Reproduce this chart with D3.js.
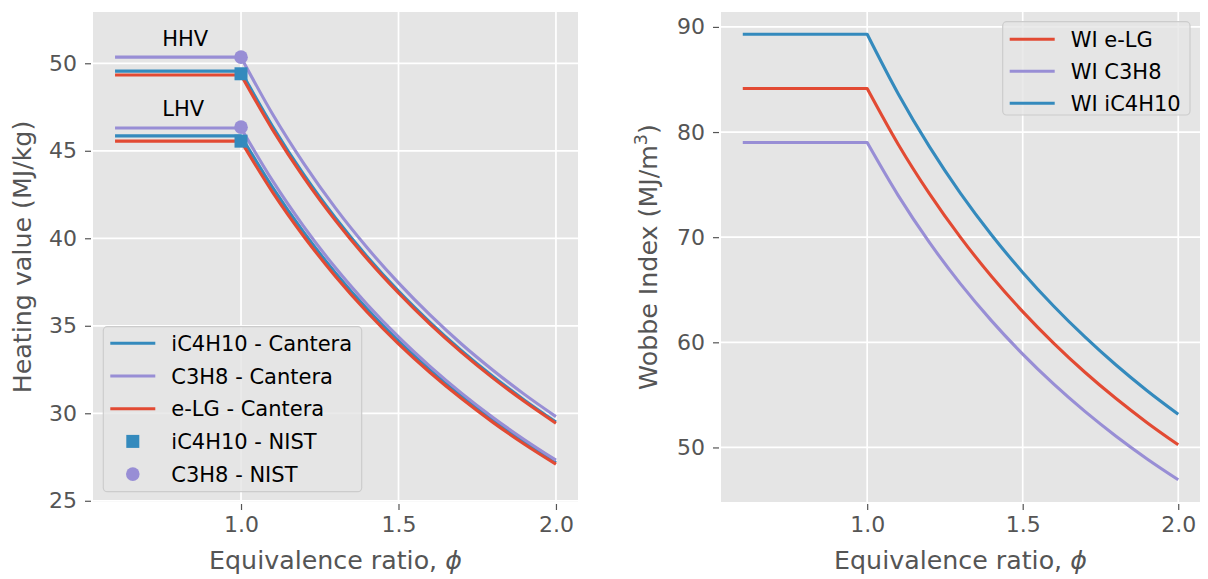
<!DOCTYPE html>
<html>
<head>
<meta charset="utf-8">
<script src="https://cdn.jsdelivr.net/npm/d3@7"></script>
<style>
  html, body { margin: 0; padding: 0; background: #ffffff; }
  svg { display: block; font-family: "DejaVu Sans", sans-serif; }
</style>
</head>
<body>
<svg id="chart" width="1208" height="579"></svg>
<script>
// Equivalence ratio samples shared by every curve
const phi = [0.6, 1.0, 1.1, 1.2, 1.3, 1.4, 1.5, 1.6, 1.7, 1.8, 1.9, 2.0];

// Higher heating values (MJ/kg), Cantera
const hhvIC4H10 = [49.55, 49.55, 46.40, 43.62, 41.16, 38.96, 36.98, 35.20, 33.58, 32.10, 30.75, 29.50];
const hhvC3H8   = [50.35, 50.35, 47.10, 44.25, 41.72, 39.47, 37.45, 35.62, 33.96, 32.46, 31.08, 29.81];
const hhvELG    = [49.33, 49.33, 46.21, 43.45, 41.01, 38.83, 36.87, 35.09, 33.48, 32.01, 30.67, 29.43];

// Lower heating values (MJ/kg), Cantera
const lhvIC4H10 = [45.85, 45.85, 42.91, 40.32, 38.02, 35.97, 34.14, 32.48, 30.97, 29.60, 28.34, 27.19];
const lhvC3H8   = [46.30, 46.30, 43.29, 40.65, 38.31, 36.23, 34.36, 32.68, 31.15, 29.76, 28.49, 27.32];
const lhvELG    = [45.55, 45.55, 42.64, 40.09, 37.82, 35.79, 33.97, 32.33, 30.84, 29.48, 28.23, 27.09];

// NIST reference values at stoichiometry: [HHV, LHV]
const nistPhi    = [1.0, 1.0];
const nistIC4H10 = [49.40, 45.55];
const nistC3H8   = [50.35, 46.35];

// Wobbe index (MJ/m^3)
const wiELG    = [84.14, 84.14, 78.82, 74.14, 69.98, 66.26, 62.92, 59.90, 57.15, 54.65, 52.36, 50.25];
const wiC3H8   = [79.00, 79.00, 73.95, 69.50, 65.56, 62.04, 58.88, 56.02, 53.43, 51.07, 48.91, 46.93];
const wiIC4H10 = [89.30, 89.30, 83.62, 78.61, 74.17, 70.21, 66.65, 63.43, 60.51, 57.84, 55.40, 53.16];

// Tick values
const xTicks = [1.0, 1.5, 2.0];
const hvTicks = [25, 30, 35, 40, 45, 50];
const wiTicks = [50, 60, 70, 80, 90];

const RED = "#E24A33", BLUE = "#348ABD", PURPLE = "#988ED5";
const TICK_FS = 22, LABEL_FS = 25.3, LEGEND_FS = 21;

const svg = d3.select("#chart");

// Line with a flat lean branch and a smooth rich branch
function curvePath(x, y, vals) {
  const pts = phi.map((p, i) => [x(p), y(vals[i])]);
  const rich = d3.line().curve(d3.curveMonotoneX)(pts.slice(1));
  return `M${pts[0][0]},${pts[0][1]}L` + rich.slice(1);
}

function panel(opts) {
  const { left, right, top, bottom, xDomain, yDomain, yTicks } = opts;
  const x = d3.scaleLinear().domain(xDomain).range([left, right]);
  const y = d3.scaleLinear().domain(yDomain).range([bottom, top]);
  const g = svg.append("g");

  g.append("rect").attr("x", left).attr("y", top)
    .attr("width", right - left).attr("height", bottom - top).attr("fill", "#E5E5E5");

  // grid
  g.append("g").selectAll("line").data(xTicks).join("line")
    .attr("x1", d => x(d)).attr("x2", d => x(d)).attr("y1", top).attr("y2", bottom)
    .attr("stroke", "#ffffff").attr("stroke-width", 1.7);
  g.append("g").selectAll("line").data(yTicks).join("line")
    .attr("x1", left).attr("x2", right).attr("y1", d => y(d)).attr("y2", d => y(d))
    .attr("stroke", "#ffffff").attr("stroke-width", 1.7);

  // axes
  const xAxis = d3.axisBottom(x).tickValues(xTicks).tickFormat(d3.format(".1f"))
    .tickSizeInner(6).tickSizeOuter(0).tickPadding(6);
  const xa = g.append("g").attr("transform", `translate(0,${bottom + 2})`).call(xAxis);
  const yAxis = d3.axisLeft(y).tickValues(yTicks).tickFormat(d3.format("d"))
    .tickSizeInner(6).tickSizeOuter(0).tickPadding(8);
  const ya = g.append("g").attr("transform", `translate(${left - 2},0)`).call(yAxis);
  [xa, ya].forEach(a => {
    a.select(".domain").remove();
    a.selectAll(".tick line").attr("stroke", "#555555").attr("stroke-width", 1.2);
    a.selectAll(".tick text").attr("fill", "#555555")
      .style("font-size", TICK_FS + "px").style("font-family", "DejaVu Sans");
  });
  xa.selectAll(".tick text").attr("dy", null).attr("y", 28);

  // x label
  const xl = g.append("text").attr("x", (left + right) / 2).attr("y", 569)
    .attr("text-anchor", "middle").attr("fill", "#555555")
    .style("font-size", LABEL_FS + "px");
  xl.append("tspan").text("Equivalence ratio, ");
  xl.append("tspan").attr("font-style", "italic").text("ϕ");

  return { g, x, y };
}

// ---------- Left panel: heating values ----------
const L = panel({ left: 93, right: 578, top: 12, bottom: 502,
  xDomain: [0.53, 2.07], yDomain: [24.93, 52.93], yTicks: hvTicks });

const hvSeries = [
  [hhvIC4H10, BLUE], [hhvC3H8, PURPLE], [hhvELG, RED],
  [lhvIC4H10, BLUE], [lhvC3H8, PURPLE], [lhvELG, RED]
];
hvSeries.forEach(([vals, c]) => {
  L.g.append("path").attr("d", curvePath(L.x, L.y, vals))
    .attr("fill", "none").attr("stroke", c).attr("stroke-width", 3.1)
    .attr("stroke-linejoin", "round");
});

L.g.append("g").selectAll("rect").data(nistIC4H10).join("rect")
  .attr("x", (d, i) => L.x(nistPhi[i]) - 6.5).attr("y", d => L.y(d) - 6.5)
  .attr("width", 13).attr("height", 13).attr("fill", BLUE);
L.g.append("g").selectAll("circle").data(nistC3H8).join("circle")
  .attr("cx", (d, i) => L.x(nistPhi[i])).attr("cy", d => L.y(d)).attr("r", 6.8)
  .attr("fill", PURPLE);

L.g.append("text").attr("x", L.x(0.75)).attr("y", L.y(51)).text("HHV")
  .style("font-size", LEGEND_FS + "px").attr("fill", "#000");
L.g.append("text").attr("x", L.x(0.75)).attr("y", L.y(47)).text("LHV")
  .style("font-size", LEGEND_FS + "px").attr("fill", "#000");

svg.append("text")
  .attr("transform", `translate(31,${(12 + 502) / 2}) rotate(-90)`)
  .attr("text-anchor", "middle").attr("fill", "#555555")
  .style("font-size", LABEL_FS + "px").text("Heating value (MJ/kg)");

// ---------- Right panel: Wobbe index ----------
const wiAll = wiELG.concat(wiC3H8, wiIC4H10);
const wMin = d3.min(wiAll), wMax = d3.max(wiAll), wPad = (wMax - wMin) * 0.05;
const R = panel({ left: 721, right: 1200, top: 12, bottom: 502,
  xDomain: [0.53, 2.07], yDomain: [wMin - wPad, wMax + wPad], yTicks: wiTicks });

[[wiELG, RED], [wiC3H8, PURPLE], [wiIC4H10, BLUE]].forEach(([vals, c]) => {
  R.g.append("path").attr("d", curvePath(R.x, R.y, vals))
    .attr("fill", "none").attr("stroke", c).attr("stroke-width", 3.1)
    .attr("stroke-linejoin", "round");
});

const wl = svg.append("text")
  .attr("transform", `translate(657,${(12 + 502) / 2}) rotate(-90)`)
  .attr("text-anchor", "middle").attr("fill", "#555555")
  .style("font-size", LABEL_FS + "px");
wl.append("tspan").text("Wobbe Index (MJ/m");
wl.append("tspan").attr("dy", -10).style("font-size", "17.5px").text("3");
wl.append("tspan").attr("dy", 10).text(")");

// ---------- Legends ----------
function legend(box, rows, step, items) {
  const g = svg.append("g");
  g.append("rect").attr("x", box[0]).attr("y", box[1])
    .attr("width", box[2] - box[0]).attr("height", box[3] - box[1])
    .attr("rx", 4).attr("fill", "#E5E5E5").attr("fill-opacity", 0.8)
    .attr("stroke", "#cccccc").attr("stroke-width", 1.2);
  items.forEach((it, i) => {
    const cy = rows + i * step;
    const hx0 = box[0] + 7, hx1 = box[0] + 52;
    if (it.kind === "line") {
      g.append("line").attr("x1", hx0).attr("x2", hx1).attr("y1", cy).attr("y2", cy)
        .attr("stroke", it.color).attr("stroke-width", 3.1);
    } else if (it.kind === "square") {
      g.append("rect").attr("x", (hx0 + hx1) / 2 - 6.5).attr("y", cy - 6.5)
        .attr("width", 13).attr("height", 13).attr("fill", it.color);
    } else {
      g.append("circle").attr("cx", (hx0 + hx1) / 2).attr("cy", cy).attr("r", 6.8)
        .attr("fill", it.color);
    }
    g.append("text").attr("x", box[0] + 68).attr("y", cy).attr("dy", "0.36em")
      .attr("fill", "#000").style("font-size", LEGEND_FS + "px").text(it.label);
  });
}

legend([103.3, 326.7, 361.7, 491.7], 343.3, 32.7, [
  { kind: "line", color: BLUE, label: "iC4H10 - Cantera" },
  { kind: "line", color: PURPLE, label: "C3H8 - Cantera" },
  { kind: "line", color: RED, label: "e-LG - Cantera" },
  { kind: "square", color: BLUE, label: "iC4H10 - NIST" },
  { kind: "circle", color: PURPLE, label: "C3H8 - NIST" }
]);

legend([1002.7, 21.7, 1190, 115], 39.3, 32, [
  { kind: "line", color: RED, label: "WI e-LG" },
  { kind: "line", color: PURPLE, label: "WI C3H8" },
  { kind: "line", color: BLUE, label: "WI iC4H10" }
]);
</script>
</body>
</html>
